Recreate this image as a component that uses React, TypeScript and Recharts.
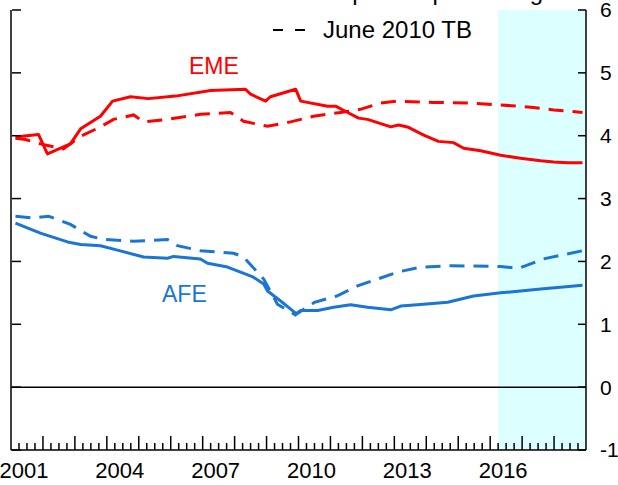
import React from 'react';
import { LineChart, Line, XAxis, YAxis, ReferenceArea, ReferenceLine } from 'recharts';

// [decimal year, percent]
const emeCurrent: [number, number][] = [
  [2001.14, 3.98], [2001.86, 4.02], [2002.14, 3.71], [2002.86, 3.87], [2003.18, 4.11],
  [2003.8, 4.31], [2004.18, 4.55], [2004.74, 4.62], [2005.3, 4.59], [2006.15, 4.63],
  [2007.25, 4.72], [2008.34, 4.74], [2008.5, 4.66], [2008.97, 4.55], [2009.12, 4.62],
  [2009.91, 4.74], [2010.07, 4.55], [2010.91, 4.47], [2011.16, 4.47], [2011.54, 4.37],
  [2011.88, 4.28], [2012.16, 4.26], [2012.89, 4.14], [2013.13, 4.17], [2013.41, 4.14],
  [2013.92, 4.01], [2014.38, 3.91], [2014.85, 3.89], [2015.17, 3.8], [2015.7, 3.76],
  [2016.33, 3.69], [2016.95, 3.64], [2017.58, 3.6], [2017.99, 3.58], [2018.42, 3.57],
  [2018.89, 3.57],
];
const emeJune2010: [number, number][] = [
  [2001.14, 3.96], [2001.45, 3.94], [2002.0, 3.86], [2002.64, 3.79], [2003.18, 3.99],
  [2003.8, 4.14], [2004.21, 4.26], [2004.84, 4.33], [2005.15, 4.22], [2005.9, 4.26],
  [2006.93, 4.34], [2007.87, 4.37], [2008.28, 4.23], [2009.03, 4.15], [2009.75, 4.22],
  [2010.47, 4.31], [2011.32, 4.37], [2011.94, 4.42], [2012.57, 4.52], [2013.1, 4.55],
  [2014.23, 4.53], [2015.29, 4.52], [2016.33, 4.49], [2017.36, 4.45], [2017.99, 4.41],
  [2018.89, 4.37],
];
const afeCurrent: [number, number][] = [
  [2001.14, 2.61], [2001.92, 2.45], [2002.77, 2.31], [2003.18, 2.27], [2003.8, 2.25],
  [2004.33, 2.18], [2005.15, 2.07], [2005.9, 2.05], [2006.09, 2.08], [2006.93, 2.04],
  [2007.15, 1.97], [2007.78, 1.91], [2008.59, 1.75], [2008.91, 1.64], [2009.03, 1.53],
  [2009.44, 1.37], [2009.93, 1.17], [2010.07, 1.22], [2010.6, 1.22], [2011.1, 1.27],
  [2011.63, 1.31], [2012.16, 1.27], [2012.89, 1.23], [2013.2, 1.29], [2013.92, 1.32],
  [2014.67, 1.35], [2015.48, 1.45], [2016.33, 1.5], [2016.95, 1.53], [2017.58, 1.56],
  [2018.2, 1.59], [2018.89, 1.62],
];
const afeJune2010: [number, number][] = [
  [2001.14, 2.72], [2001.7, 2.69], [2002.17, 2.72], [2002.86, 2.59], [2003.49, 2.4],
  [2003.9, 2.35], [2004.84, 2.32], [2005.9, 2.35], [2006.21, 2.25], [2006.93, 2.17],
  [2007.97, 2.13], [2008.28, 2.07], [2008.91, 1.72], [2009.34, 1.32], [2009.9, 1.15],
  [2010.5, 1.35], [2011.2, 1.45], [2011.85, 1.61], [2013.1, 1.83], [2013.82, 1.91],
  [2014.76, 1.93], [2016.33, 1.92], [2016.89, 1.89], [2017.67, 2.04], [2018.89, 2.17],
];

const labelYears = [2001, 2004, 2007, 2010, 2013, 2016];
const yTicks = [-1, 0, 1, 2, 3, 4, 5, 6];
const xStart = 2001;
const xEnd = 2019;
const projectionStart = 2016.25;

const quarterTicks: number[] = [];
for (let q = 0; q <= (xEnd - xStart) * 4; q++) quarterTicks.push(xStart + q / 4);

const toRows = (pairs: [number, number][]) => pairs.map(([t, v]) => ({ t, v }));

const RED = '#ff0000';
const BLUE = '#1a76d2';
const FONT = '"Liberation Sans", Arial, sans-serif';

const XTick = (props: any) => {
  const { x, y, payload } = props;
  const v: number = payload.value;
  const isYear = Math.abs(v - Math.round(v)) < 1e-6;
  const label = labelYears.find((yr) => Math.abs(yr + 0.5 - v) < 1e-6);
  const inner = v > xStart + 1e-6 && v < xEnd - 1e-6;
  return (
    <g>
      {inner && (
        <line x1={x} x2={x} y1={y} y2={y - (isYear ? 14 : 7)} stroke="#000" strokeWidth={1.5} />
      )}
      {label !== undefined && (
        <text x={x - 3} y={y + 28} textAnchor="middle" fontSize={22} fontFamily={FONT} fill="#000">
          {label}
        </text>
      )}
    </g>
  );
};

const LeftTick = (props: any) => {
  const { x, y } = props;
  return <line x1={x} x2={x + 9} y1={y} y2={y} stroke="#000" strokeWidth={1.5} />;
};

export default function App() {
  return (
    <div style={{ position: 'absolute', left: 0, top: 0, width: 618, height: 485, background: '#fff' }}>
      <LineChart width={618} height={485} margin={{ top: 10, right: 0, left: 10, bottom: 0 }}>
        <XAxis
          dataKey="t"
          type="number"
          domain={[xStart, xEnd]}
          ticks={quarterTicks}
          interval={0}
          allowDataOverflow
          height={35}
          tickSize={0}
          tickMargin={0}
          tickLine={false}
          tick={<XTick />}
          axisLine={{ stroke: '#000', strokeWidth: 1.5 }}
        />
        <YAxis
          yAxisId="l"
          orientation="left"
          width={1}
          domain={[-1, 6]}
          ticks={yTicks}
          interval={0}
          tickSize={-1}
          tickMargin={0}
          tickLine={false}
          tick={<LeftTick />}
          axisLine={{ stroke: '#000', strokeWidth: 1.5 }}
        />
        <YAxis
          yAxisId="r"
          orientation="right"
          width={32}
          domain={[-1, 6]}
          ticks={yTicks}
          interval={0}
          tickSize={-8}
          tickMargin={22}
          tickLine={{ stroke: '#000', strokeWidth: 1.5 }}
          axisLine={{ stroke: '#000', strokeWidth: 1.5 }}
          tick={{ fill: '#000', fontSize: 21, fontFamily: FONT }}
        />
        <ReferenceArea
          yAxisId="r"
          x1={projectionStart}
          x2={xEnd}
          y1={-1}
          y2={6}
          fill="#dcffff"
          fillOpacity={1}
          stroke="none"
        />
        <ReferenceLine yAxisId="r" y={0} stroke="#000" strokeWidth={1.5} />
        <Line yAxisId="l" data={toRows(emeJune2010)} dataKey="v" stroke={RED} strokeWidth={3} strokeDasharray="15 9" dot={false} isAnimationActive={false} />
        <Line yAxisId="l" data={toRows(afeJune2010)} dataKey="v" stroke={BLUE} strokeWidth={3} strokeDasharray="15 9" dot={false} isAnimationActive={false} />
        <Line yAxisId="r" data={toRows(emeCurrent)} dataKey="v" stroke={RED} strokeWidth={3} dot={false} strokeLinejoin="round" isAnimationActive={false} />
        <Line yAxisId="r" data={toRows(afeCurrent)} dataKey="v" stroke={BLUE} strokeWidth={3} dot={false} strokeLinejoin="round" isAnimationActive={false} />
        <text x={323} y={0} fontSize={24} fontFamily={FONT} fill="#000">Sep 2018 potential growth</text>
        <line x1={273} x2={305} y1={30} y2={30} stroke="#000" strokeWidth={2} strokeDasharray="10 12" />
        <text x={323} y={38} fontSize={24} fontFamily={FONT} fill="#000">June 2010 TB</text>
        <text x={189} y={74} fontSize={23} fontFamily={FONT} fill={RED}>EME</text>
        <text x={162} y={302} fontSize={23} fontFamily={FONT} fill={BLUE}>AFE</text>
      </LineChart>
    </div>
  );
}
